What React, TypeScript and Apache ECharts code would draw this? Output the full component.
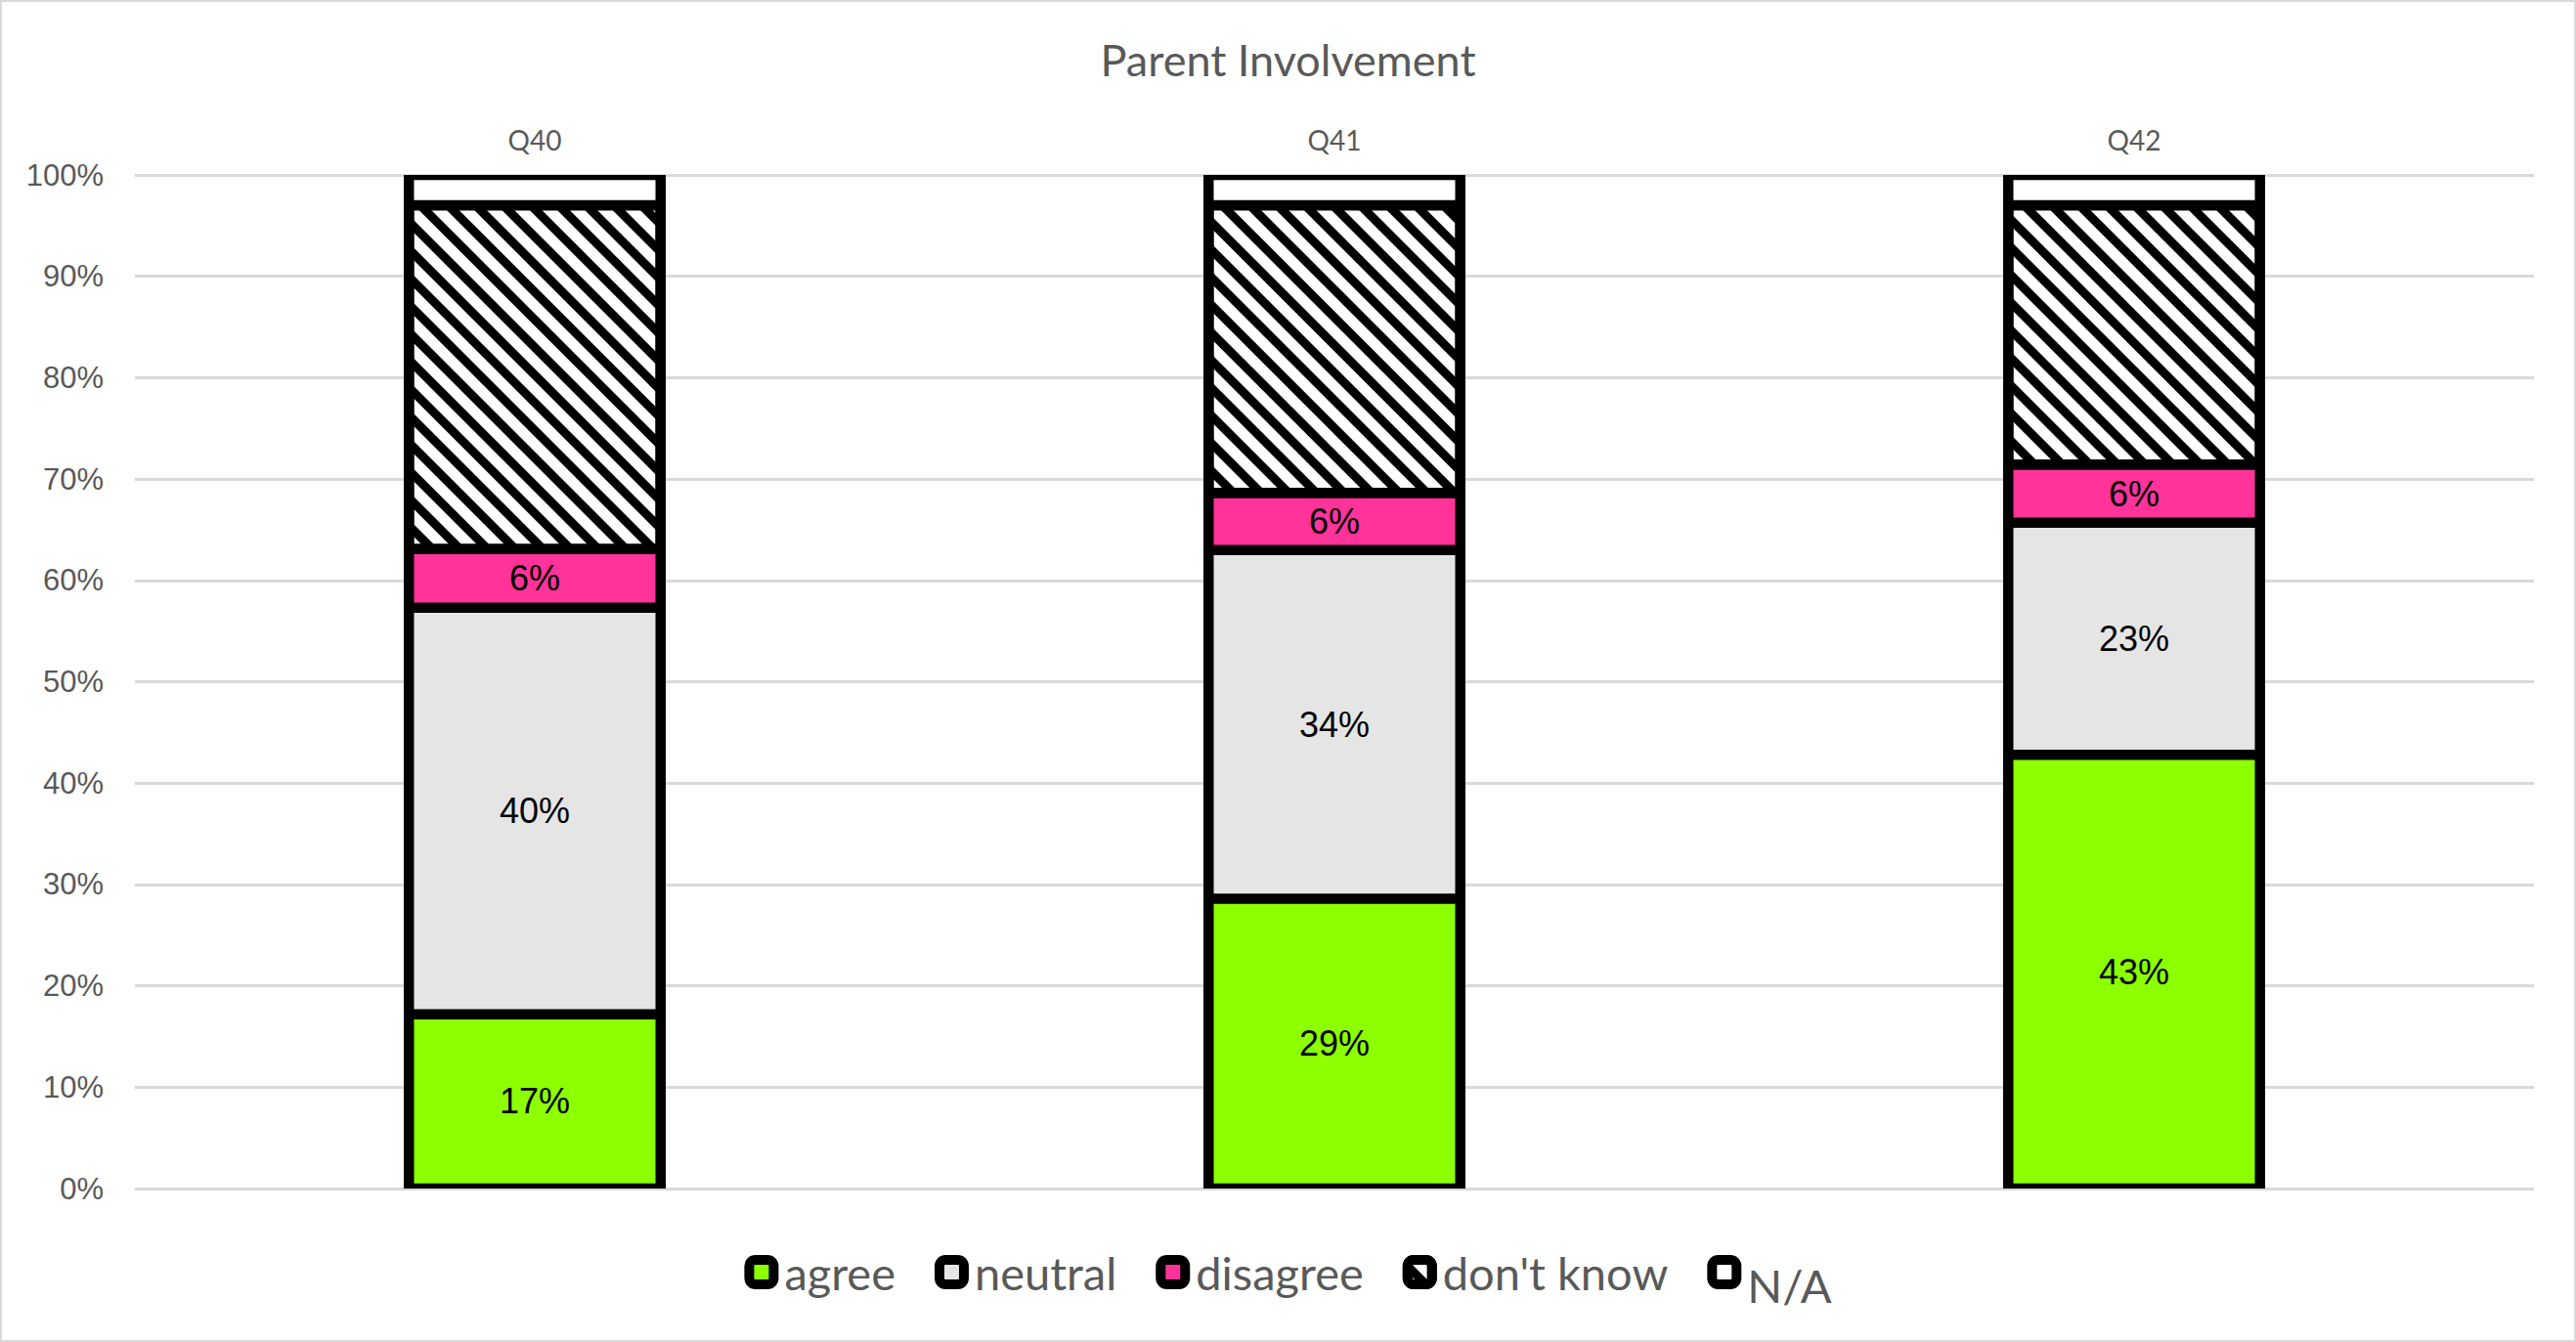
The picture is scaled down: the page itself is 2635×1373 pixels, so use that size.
import React, { useEffect, useRef } from 'react';
import * as echarts from 'echarts';

const categories = ['Q40', 'Q41', 'Q42'];
const seriesNames = ['agree', 'neutral', 'disagree', "don't know", 'N/A'];
const agree = [17.2, 28.6, 42.8];
const neutral = [40.1, 34.4, 22.9];
const disagree = [5.8, 5.6, 5.7];
const dontKnow = [33.9, 28.4, 25.6];
const notApplicable = [3.0, 3.0, 3.0];
const fullStack = [100, 100, 100];
const yMin = 0;
const yMax = 100;
const yStep = 10;

const fills = ['#8CFF00', '#E5E5E5', '#FF3399', '#FFFFFF', '#FFFFFF'];
const labelled = [true, true, true, false, false];

export default function App() {
  const ref = useRef<HTMLDivElement>(null);
  useEffect(() => {
    document.body.style.margin = '0';
    const chart = echarts.init(ref.current!, null, { renderer: 'svg' });
    const values = [agree, neutral, disagree, dontKnow, notApplicable];
    const hatch = {
      symbol: 'rect',
      symbolSize: 1,
      color: '#000000',
      backgroundColor: '#FFFFFF',
      dashArrayX: [1, 0],
      dashArrayY: [8.5, 10.5],
      rotation: Math.PI / 4,
    };
    const segments = seriesNames.map((name, i) => ({
      name,
      type: 'bar',
      stack: 'total',
      xAxisIndex: 0,
      barWidth: 257.5,
      z: 3,
      data: values[i],
      itemStyle: {
        color: fills[i],
        borderColor: '#000000',
        borderWidth: 5.25,
        ...(i === 3 ? { decal: hatch } : {}),
      },
      label: {
        show: labelled[i],
        position: 'inside',
        color: '#000000',
        fontFamily: 'Liberation Sans',
        fontSize: 36,
        formatter: (p: any) => Math.round(p.value) + '%',
      },
      emphasis: { disabled: true },
    }));
    const outline = {
      name: 'outline',
      type: 'bar',
      xAxisIndex: 1,
      barWidth: 268,
      z: 1,
      silent: true,
      data: fullStack,
      itemStyle: { color: '#000000' },
      label: { show: false },
      emphasis: { disabled: true },
    };
    chart.setOption({
      animation: false,
      backgroundColor: '#FFFFFF',
      title: {
        text: 'Parent Involvement',
        left: 'center',
        top: 38,
        padding: 0,
        textStyle: {
          fontFamily: 'Lato',
          fontSize: 45,
          fontWeight: 'normal',
          color: '#595959',
        },
      },
      legend: {
        data: seriesNames,
        bottom: 35,
        left: 'center',
        padding: 0,
        icon: 'roundRect',
        itemWidth: 25,
        itemHeight: 25,
        itemGap: 40,
        selectedMode: false,
        itemStyle: { borderColor: '#000000', borderWidth: 10 },
        formatter: (name: string) => (name === 'N/A' ? '{low|N/A}' : name),
        textStyle: {
          fontFamily: 'Lato',
          fontSize: 47,
          color: '#595959',
          padding: [0, 0, 0, 6],
          rich: {
            low: {
              fontFamily: 'Lato',
              fontSize: 47,
              color: '#595959',
              padding: [26, 0, 0, 0],
            },
          },
        },
      },
      grid: { left: 138, right: 43, top: 179, bottom: 157 },
      xAxis: [
        {
          type: 'category',
          data: categories,
          position: 'top',
          axisLine: { show: false },
          axisTick: { show: false },
          splitLine: { show: false },
          axisLabel: {
            fontFamily: 'Lato',
            fontSize: 28,
            color: '#595959',
            margin: 22,
          },
        },
        {
          type: 'category',
          data: categories,
          position: 'bottom',
          show: false,
        },
      ],
      yAxis: {
        type: 'value',
        min: yMin,
        max: yMax,
        interval: yStep,
        axisLine: { show: false },
        axisTick: { show: false },
        splitLine: { lineStyle: { color: '#D9D9D9', width: 3 } },
        axisLabel: {
          formatter: '{value}%',
          fontFamily: 'Liberation Sans',
          fontSize: 31,
          color: '#595959',
          margin: 32,
        },
      },
      graphic: [
        {
          type: 'rect',
          shape: { x: 1, y: 1, width: 2633, height: 1371 },
          style: { fill: 'none', stroke: '#D9D9D9', lineWidth: 2 },
          silent: true,
          z: 100,
        },
      ],
      series: [outline, ...segments],
    });
    return () => chart.dispose();
  }, []);
  return <div ref={ref} style={{ width: 2635, height: 1373 }} />;
}
